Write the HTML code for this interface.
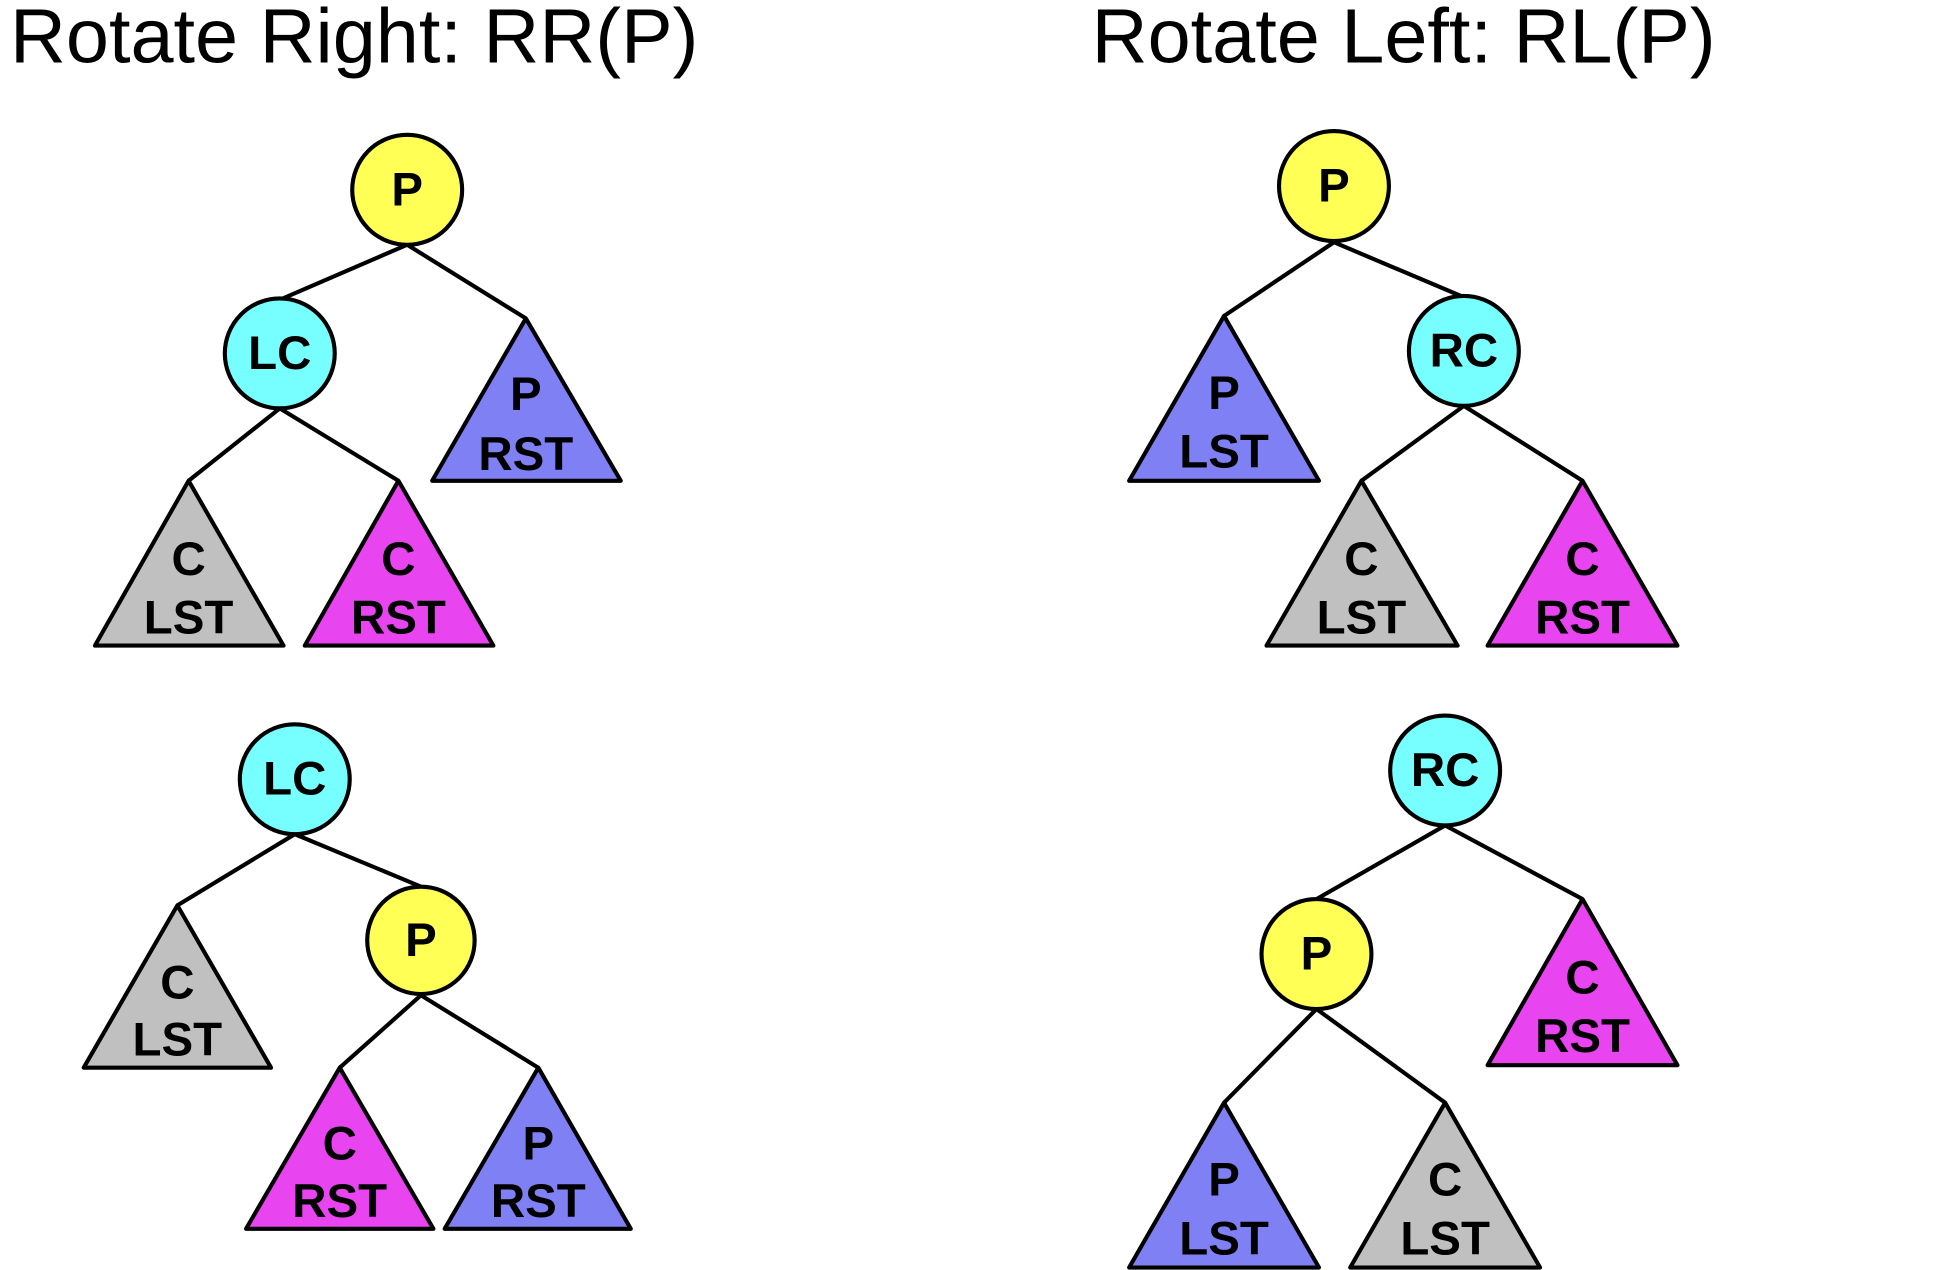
<!DOCTYPE html>
<html>
<head>
<meta charset="utf-8">
<style>
html,body{margin:0;padding:0;background:#fff;}
svg{display:block;}
.t{font-family:"Liberation Sans",Arial,sans-serif;font-weight:bold;font-size:38px;fill:#000;text-anchor:middle;dominant-baseline:central;}
.h{font-family:"Liberation Sans",Arial,sans-serif;font-size:62px;fill:#000;}
line{stroke:#000;stroke-width:3.3;}
circle,polygon{stroke:#000;stroke-width:3.3;stroke-linejoin:round;}
</style>
</head>
<body>
<svg width="1936" height="1270" viewBox="0 0 1550 1017" preserveAspectRatio="none">
<text class="h" x="8" y="50">Rotate Right: RR(P)</text>
<text class="h" x="874" y="50">Rotate Left: RL(P)</text>

<!-- Tree 1 -->
<g>
<line x1="326" y1="196" x2="224" y2="240"/>
<line x1="326" y1="196" x2="421" y2="255"/>
<line x1="224" y1="327" x2="151" y2="385"/>
<line x1="224" y1="327" x2="319" y2="385"/>
<circle cx="326" cy="152" r="44" fill="#ffff55"/>
<text class="t" x="326" y="152">P</text>
<circle cx="224" cy="283" r="44" fill="#77ffff"/>
<text class="t" x="224" y="283">LC</text>
<polygon points="421,255 497,385 346,385" fill="#8080f5"/>
<text class="t" x="421" y="316">P</text><text class="t" x="421" y="364">RST</text>
<polygon points="151,385 227,517 76,517" fill="#c0c0c0"/>
<text class="t" x="151" y="448">C</text><text class="t" x="151" y="495">LST</text>
<polygon points="319,385 395,517 244,517" fill="#e845f0"/>
<text class="t" x="319" y="448">C</text><text class="t" x="319" y="495">RST</text>
</g>

<!-- Tree 2 -->
<g>
<line x1="1068" y1="194" x2="980" y2="253"/>
<line x1="1068" y1="194" x2="1172" y2="238"/>
<line x1="1172" y1="325" x2="1090" y2="385"/>
<line x1="1172" y1="325" x2="1267" y2="385"/>
<circle cx="1068" cy="149" r="44" fill="#ffff55"/>
<text class="t" x="1068" y="149">P</text>
<circle cx="1172" cy="281" r="44" fill="#77ffff"/>
<text class="t" x="1172" y="281">RC</text>
<polygon points="980,253 1056,385 904,385" fill="#8080f5"/>
<text class="t" x="980" y="315">P</text><text class="t" x="980" y="362">LST</text>
<polygon points="1090,385 1167,517 1014,517" fill="#c0c0c0"/>
<text class="t" x="1090" y="448">C</text><text class="t" x="1090" y="495">LST</text>
<polygon points="1267,385 1343,517 1191,517" fill="#e845f0"/>
<text class="t" x="1267" y="448">C</text><text class="t" x="1267" y="495">RST</text>
</g>

<!-- Tree 3 -->
<g>
<line x1="236" y1="668" x2="142" y2="725"/>
<line x1="236" y1="668" x2="337" y2="710"/>
<line x1="337" y1="797" x2="272" y2="855"/>
<line x1="337" y1="797" x2="431" y2="855"/>
<circle cx="236" cy="624" r="44" fill="#77ffff"/>
<text class="t" x="236" y="624">LC</text>
<circle cx="337" cy="753" r="43" fill="#ffff55"/>
<text class="t" x="337" y="753">P</text>
<polygon points="142,725 217,855 67,855" fill="#c0c0c0"/>
<text class="t" x="142" y="787">C</text><text class="t" x="142" y="833">LST</text>
<polygon points="272,855 347,984 197,984" fill="#e845f0"/>
<text class="t" x="272" y="916">C</text><text class="t" x="272" y="962">RST</text>
<polygon points="431,855 505,984 356,984" fill="#8080f5"/>
<text class="t" x="431" y="916">P</text><text class="t" x="431" y="962">RST</text>
</g>

<!-- Tree 4 -->
<g>
<line x1="1157" y1="661" x2="1054" y2="720"/>
<line x1="1157" y1="661" x2="1267" y2="720"/>
<line x1="1054" y1="808" x2="980" y2="883"/>
<line x1="1054" y1="808" x2="1157" y2="883"/>
<circle cx="1157" cy="617" r="44" fill="#77ffff"/>
<text class="t" x="1157" y="617">RC</text>
<circle cx="1054" cy="764" r="44" fill="#ffff55"/>
<text class="t" x="1054" y="764">P</text>
<polygon points="1267,720 1343,853 1191,853" fill="#e845f0"/>
<text class="t" x="1267" y="783">C</text><text class="t" x="1267" y="830">RST</text>
<polygon points="980,883 1056,1015 904,1015" fill="#8080f5"/>
<text class="t" x="980" y="945">P</text><text class="t" x="980" y="992">LST</text>
<polygon points="1157,883 1233,1015 1081,1015" fill="#c0c0c0"/>
<text class="t" x="1157" y="945">C</text><text class="t" x="1157" y="992">LST</text>
</g>
</svg>
</body>
</html>
